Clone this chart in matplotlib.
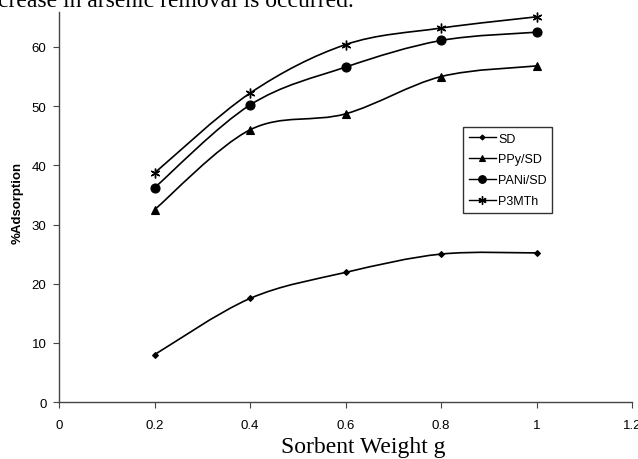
import matplotlib
matplotlib.use("Agg")
import matplotlib.pyplot as plt
from matplotlib.path import Path
from matplotlib.patches import PathPatch
from matplotlib.lines import Line2D
import numpy as np

weights = [0.2, 0.4, 0.6, 0.8, 1.0]
sd = [8.0, 17.5, 21.9, 25.0, 25.2]
ppy_sd = [32.5, 46.0, 48.7, 55.0, 56.8]
pani_sd = [36.2, 50.2, 56.6, 61.1, 62.5]
p3mth = [38.7, 52.2, 60.4, 63.2, 65.1]
series_names = ["SD", "PPy/SD", "PANi/SD", "P3MTh"]
x_ticks = [0, 0.2, 0.4, 0.6, 0.8, 1, 1.2]
x_tick_labels = ["0", "0.2", "0.4", "0.6", "0.8", "1", "1.2"]
y_ticks = [0, 10, 20, 30, 40, 50, 60]

plt.rcParams['font.family'] = ['Liberation Sans', 'DejaVu Sans']

W, H = 638, 460
fig = plt.figure(figsize=(W / 100, H / 100), dpi=100)
left_px, right_px, bottom_px, top_px = 59, 632, 403, 13
ax = fig.add_axes([left_px / W, 1 - bottom_px / H, (right_px - left_px) / W, (bottom_px - top_px) / H])

ymax = 60 * (bottom_px - top_px) / (bottom_px - 48)
ax.set_xlim(0, 1.2)
ax.set_ylim(0, ymax)


def smooth_path(xs, ys):
    pts = np.column_stack([xs, ys]).astype(float)
    n = len(pts)
    verts = [pts[0]]
    codes = [Path.MOVETO]
    for i in range(n - 1):
        p0 = pts[i - 1] if i > 0 else pts[i]
        p1 = pts[i]
        p2 = pts[i + 1]
        p3 = pts[i + 2] if i + 2 < n else pts[i + 1]
        c1 = p1 + (p2 - p0) / 6.0
        c2 = p2 - (p3 - p1) / 6.0
        verts += [c1, c2, p2]
        codes += [Path.CURVE4] * 3
    return Path(verts, codes)


styles = [
    dict(marker="D", ms=3.0),
    dict(marker="^", ms=5.5),
    dict(marker="o", ms=6.5),
    dict(marker=(6, 2, 0), ms=7, mew=1.0),
]
handles = []
for name, vals, st in zip(series_names, [sd, ppy_sd, pani_sd, p3mth], styles):
    patch = PathPatch(smooth_path(weights, vals), facecolor="none", edgecolor="black", lw=1.2, zorder=2)
    ax.add_patch(patch)
    ax.plot(weights, vals, linestyle="none", color="black", marker=st["marker"],
            markersize=st["ms"], markeredgewidth=st.get("mew", 0.8), zorder=3)
    handles.append(Line2D([], [], color="black", lw=1.0, marker=st["marker"],
                          markersize=st["ms"] * 0.85, markeredgewidth=st.get("mew", 0.8), label=name))

ax.set_xticks(x_ticks)
ax.set_xticklabels(x_tick_labels)
ax.set_yticks(y_ticks)
ax.tick_params(axis="both", labelsize=9.5, length=4, width=0.8, direction="out", color="#444444")
ax.tick_params(axis="x", pad=8)
ax.tick_params(axis="y", pad=5)
for s in ["top", "right"]:
    ax.spines[s].set_visible(False)
for s in ["left", "bottom"]:
    ax.spines[s].set_color("#444444")
    ax.spines[s].set_linewidth(1.0)

ax.set_ylabel("%Adsorption", fontsize=9.5, fontweight="bold", va="center", ha="center")
ax.yaxis.set_label_coords((18 - left_px) / (right_px - left_px), (bottom_px - 203) / (bottom_px - top_px))

fig.text(363 / W, 1 - 453 / H, "Sorbent Weight g", fontsize=17, family="Liberation Serif",
         ha="center", va="baseline")
fig.text(-2 / W, 1 - 7 / H, "crease in arsenic removal is occurred.", fontsize=17,
         family="Liberation Serif", ha="left", va="baseline")

leg = ax.legend(handles=handles, loc="upper left",
                bbox_to_anchor=((463 - left_px) / (right_px - left_px), (bottom_px - 128) / (bottom_px - top_px)),
                frameon=True, fancybox=False, edgecolor="black", fontsize=9,
                handlelength=2.2, handletextpad=0.15, borderpad=0.45, labelspacing=0.7,
                borderaxespad=0)
leg.get_frame().set_linewidth(1.0)

fig.savefig("out.png", dpi=100)
